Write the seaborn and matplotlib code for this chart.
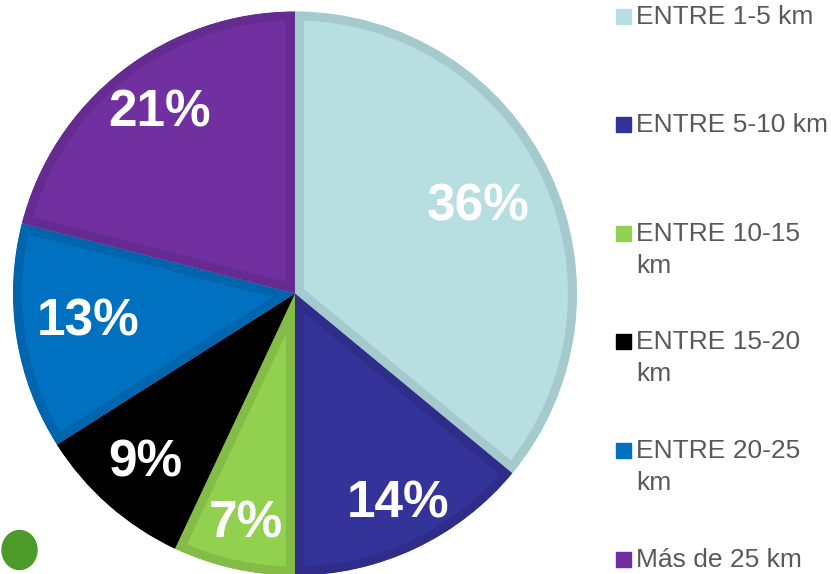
import numpy as np
import seaborn as sns
import matplotlib.pyplot as plt
from matplotlib.patches import Ellipse, Rectangle

sns.set_style("white")
plt.rcParams['font.family'] = ['Liberation Sans', 'DejaVu Sans']

# datos
categorias = ["ENTRE 1-5 km", "ENTRE 5-10 km", "ENTRE 10-15\nkm",
              "ENTRE 15-20\nkm", "ENTRE 20-25\nkm", "Más de 25 km"]
porcentajes = [36, 14, 7, 9, 13, 21]
colores = ["#B7DEE0", "#333399", "#92D050", "#000000", "#0070C0", "#7030A0"]
bordes = ["#A5CACD", "#2E2E8A", "#84BC48", "#000000", "#0065AD", "#652B90"]

# posicion de las etiquetas (fraccion del radio, desplazamiento angular)
dist_etiq = [0.72, 0.83, 0.835, 0.80, 0.74, 0.80]
desv_etiq = [0, 0.8, 0.5, 0, -1.1, -0.8]

W, H = 831, 574
fig = plt.figure(figsize=(W / 100, H / 100), dpi=100)
ax = fig.add_axes([0, 0, 1, 1])

cx, cy, r = 295, H - 293.5, 282
wedges, _ = ax.pie(porcentajes, colors=colores, startangle=90, counterclock=False,
                   center=(cx, cy), radius=r,
                   wedgeprops=dict(linewidth=13, joinstyle="miter"))
for w, b in zip(wedges, bordes):
    w.set_edgecolor(b)
    w.set_clip_on(True)
    w.set_clip_path(w)   # borde solo hacia dentro

# porcentajes
for w, p, d, off in zip(wedges, porcentajes, dist_etiq, desv_etiq):
    ang = np.deg2rad((w.theta1 + w.theta2) / 2 + off)
    ax.text(cx + d * r * np.cos(ang), cy + d * r * np.sin(ang), f"{p}%",
            color="white", fontsize=37, fontweight="bold",
            ha="center", va="center")

# circulo verde decorativo
ax.add_patch(Ellipse((19.5, H - 550), 35, 39, color="#4C9A2A"))

ax.set_xlim(0, W)
ax.set_ylim(0, H)
ax.set_aspect("equal")
ax.axis("off")

# leyenda
base_y = [24, 132, 241, 349, 458, 567]
for lab, col, y in zip(categorias, colores, base_y):
    ax.add_patch(Rectangle((616, H - y), 15, 15, color=col))
    primera, *resto = lab.split("\n")
    ax.text(636, H - y, primera, fontsize=19, color="#595959", va="baseline")
    for k, linea in enumerate(resto, start=1):
        ax.text(636, H - y - 32 * k, linea, fontsize=19, color="#595959",
                va="baseline")

fig.savefig("out.png", dpi=100)
